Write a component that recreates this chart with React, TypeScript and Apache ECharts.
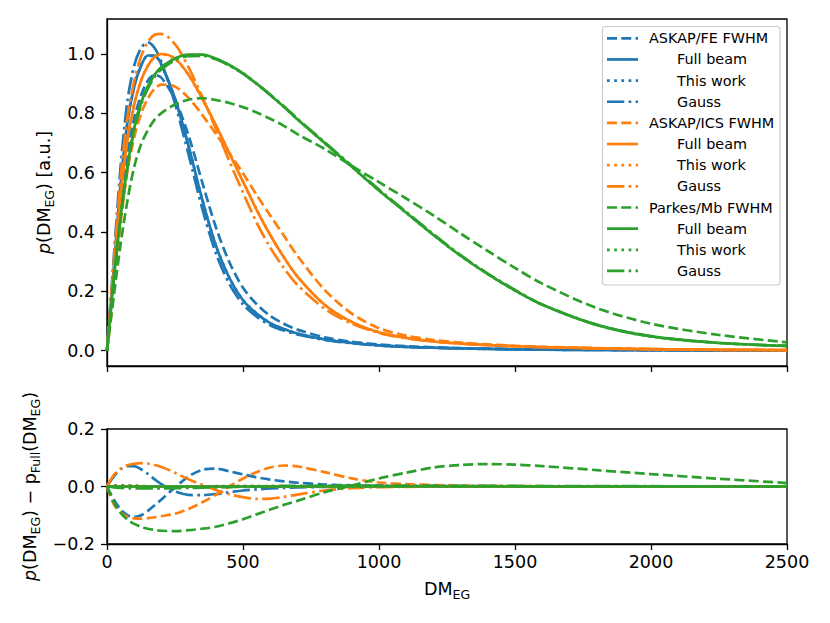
import React, { useEffect, useRef } from "react";
import * as echarts from "echarts";

// DM_EG grid (x values)
const DM = [0, 25, 50, 75, 100, 125, 150, 175, 200, 250, 300, 350, 400, 450, 500, 550, 600, 650, 700, 800, 900, 1000, 1100, 1200, 1300, 1400, 1500, 1600, 1800, 2000, 2250, 2500];

// ---- top panel: p(DM_EG) ----
const blueFWHM = [0, 0.235, 0.48, 0.67, 0.784, 0.86, 0.91, 0.93, 0.92, 0.847, 0.725, 0.568, 0.417, 0.298, 0.212, 0.157, 0.117, 0.091, 0.071, 0.045, 0.03, 0.021, 0.015, 0.0115, 0.0085, 0.007, 0.0053, 0.0041, 0.0029, 0.002, 0.0012, 0.0008];
const blueFull = [0, 0.28, 0.56, 0.77, 0.89, 0.96, 0.995, 0.995, 0.965, 0.85, 0.69, 0.51, 0.355, 0.245, 0.17, 0.125, 0.093, 0.073, 0.058, 0.038, 0.026, 0.018, 0.013, 0.01, 0.0075, 0.006, 0.0045, 0.0035, 0.0025, 0.0017, 0.001, 0.0007];
const blueThisWork = [0, 0.283, 0.564, 0.773, 0.892, 0.961, 0.994, 0.993, 0.963, 0.848, 0.689, 0.51, 0.356, 0.246, 0.171, 0.126, 0.093, 0.073, 0.058, 0.038, 0.026, 0.018, 0.013, 0.01, 0.0075, 0.006, 0.0045, 0.0035, 0.0025, 0.0017, 0.001, 0.0007];
const blueGauss = [0, 0.315, 0.62, 0.841, 0.961, 1.02, 1.039, 1.02, 0.973, 0.833, 0.661, 0.48, 0.329, 0.225, 0.156, 0.115, 0.086, 0.068, 0.055, 0.0365, 0.0252, 0.0176, 0.0128, 0.01, 0.0075, 0.006, 0.0045, 0.0035, 0.0025, 0.0017, 0.001, 0.0007];

const orangeFWHM = [0, 0.198, 0.43, 0.605, 0.719, 0.798, 0.85, 0.883, 0.897, 0.89, 0.852, 0.795, 0.731, 0.665, 0.598, 0.525, 0.456, 0.388, 0.32, 0.205, 0.125, 0.076, 0.051, 0.036, 0.027, 0.021, 0.0165, 0.013, 0.0087, 0.0055, 0.0033, 0.0022];
const orangeFull = [0, 0.26, 0.52, 0.71, 0.83, 0.91, 0.96, 0.99, 1.0, 0.985, 0.93, 0.85, 0.76, 0.665, 0.57, 0.475, 0.39, 0.315, 0.25, 0.155, 0.097, 0.062, 0.043, 0.031, 0.024, 0.019, 0.015, 0.012, 0.008, 0.005, 0.003, 0.002];
const orangeThisWork = [0, 0.262, 0.523, 0.713, 0.832, 0.911, 0.96, 0.989, 0.999, 0.983, 0.928, 0.849, 0.76, 0.666, 0.571, 0.476, 0.391, 0.316, 0.25, 0.155, 0.097, 0.062, 0.043, 0.031, 0.024, 0.019, 0.015, 0.012, 0.008, 0.005, 0.003, 0.002];
const orangeGauss = [0, 0.3, 0.582, 0.784, 0.909, 0.991, 1.04, 1.065, 1.068, 1.033, 0.955, 0.856, 0.748, 0.638, 0.533, 0.432, 0.348, 0.279, 0.222, 0.141, 0.091, 0.06, 0.042, 0.031, 0.024, 0.019, 0.015, 0.012, 0.008, 0.005, 0.003, 0.002];

const greenFWHM = [0, 0.185, 0.358, 0.505, 0.62, 0.695, 0.743, 0.779, 0.801, 0.83, 0.846, 0.851, 0.845, 0.835, 0.821, 0.803, 0.782, 0.758, 0.73, 0.68, 0.623, 0.568, 0.513, 0.456, 0.395, 0.336, 0.279, 0.226, 0.144, 0.091, 0.053, 0.028];
const greenFull = [0, 0.24, 0.45, 0.62, 0.75, 0.835, 0.89, 0.93, 0.955, 0.985, 0.998, 0.998, 0.985, 0.963, 0.935, 0.9, 0.862, 0.822, 0.78, 0.7, 0.62, 0.54, 0.465, 0.39, 0.32, 0.258, 0.203, 0.155, 0.087, 0.048, 0.026, 0.016];
const greenThisWork = [0, 0.241, 0.452, 0.622, 0.752, 0.836, 0.891, 0.93, 0.955, 0.984, 0.997, 0.997, 0.984, 0.962, 0.935, 0.9, 0.862, 0.822, 0.78, 0.7, 0.62, 0.54, 0.465, 0.39, 0.32, 0.258, 0.203, 0.155, 0.087, 0.048, 0.026, 0.016];
const greenGauss = [0, 0.237, 0.445, 0.614, 0.743, 0.828, 0.883, 0.923, 0.948, 0.979, 0.993, 0.994, 0.982, 0.961, 0.934, 0.9, 0.863, 0.824, 0.782, 0.703, 0.623, 0.543, 0.468, 0.393, 0.322, 0.26, 0.205, 0.156, 0.088, 0.049, 0.026, 0.016];

// ---- bottom panel: p(DM_EG) - p_Full(DM_EG) ----
const fullBeamDiff = [0, 0, 0, 0, 0, 0, 0, 0, 0, 0, 0, 0, 0, 0, 0, 0, 0, 0, 0, 0, 0, 0, 0, 0, 0, 0, 0, 0, 0, 0, 0, 0];
const blueFWHMDiff = [0, -0.045, -0.08, -0.1, -0.106, -0.1, -0.085, -0.065, -0.045, -0.003, 0.035, 0.058, 0.062, 0.053, 0.042, 0.032, 0.024, 0.018, 0.013, 0.007, 0.004, 0.003, 0.002, 0.0015, 0.001, 0.001, 0.0008, 0.0006, 0.0004, 0.0003, 0.0002, 0.0001];
const blueThisWorkDiff = [0, 0.003, 0.004, 0.003, 0.002, 0.001, -0.001, -0.002, -0.002, -0.002, -0.001, 0, 0.001, 0.001, 0.001, 0.001, 0, 0, 0, 0, 0, 0, 0, 0, 0, 0, 0, 0, 0, 0, 0, 0];
const blueGaussDiff = [0, 0.035, 0.06, 0.071, 0.071, 0.06, 0.044, 0.025, 0.008, -0.017, -0.029, -0.03, -0.026, -0.02, -0.014, -0.01, -0.007, -0.005, -0.003, -0.0015, -0.0008, -0.0004, -0.0002, 0, 0, 0, 0, 0, 0, 0, 0, 0];
const orangeFWHMDiff = [0, -0.062, -0.09, -0.105, -0.111, -0.112, -0.11, -0.107, -0.103, -0.095, -0.078, -0.055, -0.029, 0, 0.028, 0.05, 0.066, 0.073, 0.07, 0.05, 0.028, 0.014, 0.008, 0.005, 0.003, 0.002, 0.0015, 0.001, 0.0007, 0.0005, 0.0003, 0.0002];
const orangeThisWorkDiff = [0, 0.002, 0.003, 0.003, 0.002, 0.001, 0, -0.001, -0.001, -0.002, -0.002, -0.001, 0, 0.001, 0.001, 0.001, 0.001, 0.001, 0, 0, 0, 0, 0, 0, 0, 0, 0, 0, 0, 0, 0, 0];
const orangeGaussDiff = [0, 0.04, 0.062, 0.074, 0.079, 0.081, 0.08, 0.075, 0.068, 0.048, 0.025, 0.006, -0.012, -0.027, -0.037, -0.043, -0.042, -0.036, -0.028, -0.014, -0.006, -0.002, -0.001, 0, 0, 0, 0, 0, 0, 0, 0, 0];
const greenFWHMDiff = [0, -0.055, -0.092, -0.115, -0.13, -0.14, -0.147, -0.151, -0.154, -0.155, -0.152, -0.147, -0.14, -0.128, -0.114, -0.097, -0.08, -0.064, -0.05, -0.02, 0.003, 0.028, 0.048, 0.066, 0.075, 0.078, 0.076, 0.071, 0.057, 0.043, 0.027, 0.012];
const greenThisWorkDiff = [0, 0.001, 0.002, 0.002, 0.002, 0.001, 0.001, 0, 0, -0.001, -0.001, -0.001, -0.001, -0.001, 0, 0, 0, 0, 0, 0, 0, 0, 0, 0, 0, 0, 0, 0, 0, 0, 0, 0];
const greenGaussDiff = [0, -0.003, -0.005, -0.006, -0.007, -0.007, -0.007, -0.007, -0.007, -0.006, -0.005, -0.004, -0.003, -0.002, -0.001, 0, 0.001, 0.002, 0.002, 0.003, 0.003, 0.003, 0.003, 0.003, 0.002, 0.002, 0.002, 0.001, 0.001, 0.001, 0, 0];

// tick labels
const xTicks = [0, 500, 1000, 1500, 2000, 2500];
const topYTicks = [0, 0.2, 0.4, 0.6, 0.8, 1.0];
const legendLabels = [
  "ASKAP/FE FWHM", "Full beam", "This work", "Gauss",
  "ASKAP/ICS FWHM", "Full beam", "This work", "Gauss",
  "Parkes/Mb FWHM", "Full beam", "This work", "Gauss",
];

const FONT = "DejaVu Sans";
const COLORS = ["#1f77b4", "#ff7f0e", "#2ca02c"];
const LW = 2.7;
const STYLES: any[] = [[10, 4.3], "solid", [2.7, 4.5], [17.3, 4.3, 2.7, 4.3]];

const topSets = [
  [blueFWHM, blueFull, blueThisWork, blueGauss],
  [orangeFWHM, orangeFull, orangeThisWork, orangeGauss],
  [greenFWHM, greenFull, greenThisWork, greenGauss],
];
const bottomSets = [
  [blueFWHMDiff, fullBeamDiff, blueThisWorkDiff, blueGaussDiff],
  [orangeFWHMDiff, fullBeamDiff, orangeThisWorkDiff, orangeGaussDiff],
  [greenFWHMDiff, fullBeamDiff, greenThisWorkDiff, greenGaussDiff],
];

function mkSeries(name: string, idx: number, vals: number[], color: string, type: any, z: number) {
  return {
    type: "line",
    name,
    xAxisIndex: idx,
    yAxisIndex: idx,
    data: DM.map((d, i) => [d, vals[i]]),
    showSymbol: false,
    symbol: "none",
    smooth: 0.3,
    silent: true,
    z,
    lineStyle: { color, width: LW, type, cap: "butt", join: "round" },
    itemStyle: { color },
  };
}

const tickStyle = { show: true, inside: false, length: 6, lineStyle: { color: "#000", width: 1.3 } };
const labelBase = { color: "#000", fontSize: 17.5, fontFamily: FONT };
const richName = {
  i: { fontStyle: "italic", fontSize: 17.5, fontFamily: FONT, lineHeight: 24, color: "#000" },
  s: { fontSize: 12.5, fontFamily: FONT, lineHeight: 12, verticalAlign: "bottom", color: "#000" },
  n: { fontSize: 17.5, fontFamily: FONT, lineHeight: 24, color: "#000" },
};
const fmtMinus = (v: number) => v.toFixed(1).replace("-", "\u2212");

export default function App() {
  const ref = useRef<HTMLDivElement>(null);
  useEffect(() => {
    if (!ref.current) return;
    const chart = echarts.init(ref.current, null, { renderer: "svg" });
    const series: any[] = [];
    let z = 2;
    topSets.forEach((set, c) =>
      set.forEach((vals, k) => {
        series.push(mkSeries(legendLabels[c * 4 + k] + " top", 0, vals, COLORS[c], STYLES[k], z++));
      })
    );
    bottomSets.forEach((set, c) =>
      set.forEach((vals, k) => {
        series.push(mkSeries(legendLabels[c * 4 + k] + " diff", 1, vals, COLORS[c], STYLES[k], z++));
      })
    );

    const legendX0 = 607, legendX1 = 638, rowY0 = 38.3, rowH = 21.15;
    const legendChildren: any[] = [
      {
        type: "rect",
        shape: { x: 602.5, y: 26.5, width: 177.5, height: 258.5, r: 3 },
        style: { fill: "rgba(255,255,255,0.8)", stroke: "#cccccc", lineWidth: 1.2 },
      },
    ];
    legendLabels.forEach((lab, i) => {
      const c = Math.floor(i / 4), k = i % 4;
      const y = rowY0 + i * rowH;
      const st: any = STYLES[k];
      legendChildren.push({
        type: "line",
        shape: { x1: legendX0, y1: y, x2: legendX1, y2: y },
        style: { stroke: COLORS[c], lineWidth: LW, lineDash: Array.isArray(st) ? st : null, lineCap: "butt" },
      });
      legendChildren.push({
        type: "text",
        style: {
          text: lab,
          x: k === 0 ? 649 : 677,
          y,
          fill: "#000",
          fontSize: 14.4,
          fontFamily: FONT,
          align: "left",
          verticalAlign: "middle",
          textAlign: "left",
          textVerticalAlign: "middle",
        },
      });
    });

    chart.setOption({
      animation: false,
      backgroundColor: "#fff",
      grid: [
        { left: 107, top: 19, width: 680, height: 347, show: true, borderColor: "#000", borderWidth: 1.3, backgroundColor: "transparent" },
        { left: 107, top: 429, width: 680, height: 115, show: true, borderColor: "#000", borderWidth: 1.3, backgroundColor: "transparent" },
      ],
      xAxis: [
        {
          gridIndex: 0, type: "value", min: 0, max: 2500, interval: 500,
          axisLine: { show: true, onZero: false, lineStyle: { color: "#000", width: 1.3 } },
          axisTick: { ...tickStyle, customValues: xTicks },
          axisLabel: { show: false },
          splitLine: { show: false },
        },
        {
          gridIndex: 1, type: "value", min: 0, max: 2500, interval: 500,
          axisLine: { show: true, onZero: false, lineStyle: { color: "#000", width: 1.3 } },
          axisTick: { ...tickStyle },
          axisLabel: { ...labelBase, margin: 9, showMinLabel: true, showMaxLabel: true, formatter: (v: number) => String(Math.round(v)) },
          splitLine: { show: false },
          name: "{n|DM}{s|EG}",
          nameLocation: "middle",
          nameGap: 33,
          nameTextStyle: { ...labelBase, rich: richName },
        },
      ],
      yAxis: [
        {
          gridIndex: 0, type: "value", min: -0.0516, max: 1.118,
          axisLine: { show: true, onZero: false, lineStyle: { color: "#000", width: 1.3 } },
          axisTick: { ...tickStyle, customValues: topYTicks },
          axisLabel: { ...labelBase, margin: 12, customValues: topYTicks, formatter: (v: number) => fmtMinus(v) },
          splitLine: { show: false },
          name: "{i|p}{n|(DM}{s|EG}{n|) [a.u.]}",
          nameLocation: "middle",
          nameRotate: 90,
          nameGap: 50,
          nameTextStyle: { ...labelBase, rich: richName },
        },
        {
          gridIndex: 1, type: "value", min: -0.2, max: 0.2, interval: 0.2,
          axisLine: { show: true, onZero: false, lineStyle: { color: "#000", width: 1.3 } },
          axisTick: { ...tickStyle },
          axisLabel: { ...labelBase, margin: 12, formatter: (v: number) => fmtMinus(v) },
          splitLine: { show: false },
          name: "{i|p}{n|(DM}{s|EG}{n|) \u2212 p}{s|Full}{n|(DM}{s|EG}{n|)}",
          nameLocation: "middle",
          nameRotate: 90,
          nameGap: 65,
          nameTextStyle: { ...labelBase, rich: richName },
        },
      ],
      series,
      graphic: [{ type: "group", z: 100, children: legendChildren }],
    });
    return () => chart.dispose();
  }, []);
  return (
    <div
      ref={ref}
      style={{ position: "absolute", left: 0, top: 0, width: 830, height: 623, background: "#fff" }}
    />
  );
}
